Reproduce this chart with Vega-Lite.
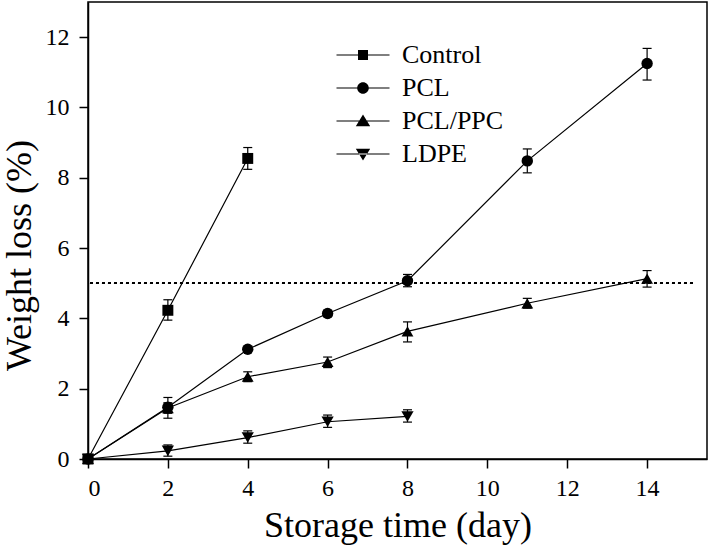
{
  "$schema": "https://vega.github.io/schema/vega-lite/v6.json",
  "width": 619,
  "height": 457,
  "autosize": {"type": "none"},
  "padding": {"left": 88, "top": 2, "right": 2, "bottom": 87},
  "background": "white",
  "config": {
    "font": "Liberation Serif",
    "view": {"stroke": "black", "strokeWidth": 1.5},
    "axis": {
      "grid": false,
      "labelFont": "Liberation Serif",
      "labelFontSize": 24,
      "labelColor": "black",
      "titleFont": "Liberation Serif",
      "titleFontSize": 36,
      "titleFontWeight": "normal",
      "titleColor": "black",
      "domainColor": "black",
      "domainWidth": 1.5,
      "tickColor": "black",
      "tickWidth": 1.5,
      "tickSize": 9
    },
    "legend": {"labelFont": "Liberation Serif"}
  },
  "data": {
    "values": [
      {"series": "Control", "day": 0, "loss": 0, "lo": null, "hi": null},
      {"series": "Control", "day": 2, "loss": 4.23, "lo": 3.95, "hi": 4.53},
      {"series": "Control", "day": 4, "loss": 8.55, "lo": 8.24, "hi": 8.86},
      {"series": "PCL", "day": 0, "loss": 0, "lo": null, "hi": null},
      {"series": "PCL", "day": 2, "loss": 1.47, "lo": 1.16, "hi": 1.75},
      {"series": "PCL", "day": 4, "loss": 3.12, "lo": null, "hi": null},
      {"series": "PCL", "day": 6, "loss": 4.14, "lo": 4.05, "hi": 4.23},
      {"series": "PCL", "day": 8, "loss": 5.07, "lo": 4.9, "hi": 5.25},
      {"series": "PCL", "day": 11, "loss": 8.48, "lo": 8.14, "hi": 8.82},
      {"series": "PCL", "day": 14, "loss": 11.25, "lo": 10.78, "hi": 11.68},
      {"series": "PCL/PPC", "day": 0, "loss": 0, "lo": null, "hi": null},
      {"series": "PCL/PPC", "day": 2, "loss": 1.45, "lo": 1.3, "hi": 1.6},
      {"series": "PCL/PPC", "day": 4, "loss": 2.34, "lo": 2.2, "hi": 2.48},
      {"series": "PCL/PPC", "day": 6, "loss": 2.76, "lo": 2.6, "hi": 2.9},
      {"series": "PCL/PPC", "day": 8, "loss": 3.63, "lo": 3.33, "hi": 3.9},
      {"series": "PCL/PPC", "day": 11, "loss": 4.43, "lo": 4.29, "hi": 4.57},
      {"series": "PCL/PPC", "day": 14, "loss": 5.13, "lo": 4.89, "hi": 5.36},
      {"series": "LDPE", "day": 0, "loss": 0, "lo": null, "hi": null},
      {"series": "LDPE", "day": 2, "loss": 0.23, "lo": 0.08, "hi": 0.4},
      {"series": "LDPE", "day": 4, "loss": 0.61, "lo": 0.45, "hi": 0.8},
      {"series": "LDPE", "day": 6, "loss": 1.06, "lo": 0.9, "hi": 1.25},
      {"series": "LDPE", "day": 8, "loss": 1.21, "lo": 1.05, "hi": 1.4}
    ]
  },
  "layer": [
    {
      "mark": {"type": "rule", "strokeDash": [2.5, 3.5], "strokeWidth": 1.5, "color": "black"},
      "encoding": {
        "x": {"datum": 0.05, "type": "quantitative", "title": "Storage time (day)"},
        "x2": {"datum": 15.2},
        "y": {"datum": 5, "type": "quantitative", "title": "Weight loss (%)"}
      }
    },
    {
      "mark": {"type": "line", "color": "black", "strokeWidth": 1.2},
      "encoding": {
        "x": {
          "field": "day", "type": "quantitative", "title": "Storage time (day)",
          "scale": {"domain": [0, 15.5], "nice": false, "zero": false},
          "axis": {"values": [0, 2, 4, 6, 8, 10, 12, 14], "labelPadding": 8, "labelFont": "Liberation Serif", "titleX": 309.5, "titleY": 77, "titleBaseline": "alphabetic", "titleAlign": "center"}
        },
        "y": {
          "field": "loss", "type": "quantitative", "title": "Weight loss (%)",
          "scale": {"domain": [0, 13], "nice": false},
          "axis": {
            "values": [0, 1, 2, 3, 4, 5, 6, 7, 8, 9, 10, 11, 12],
            "labelExpr": "datum.value % 2 === 0 ? datum.label : ''",
            "labelFont": "Liberation Serif",
            "tickSize": {"condition": {"test": "datum.value % 2 === 1", "value": 5}, "value": 9},
            "labelPadding": 10,
            "titleX": -58, "titleY": 253, "titleAngle": -90, "titleBaseline": "alphabetic", "titleAlign": "center"
          }
        },
        "detail": {"field": "series"}
      }
    },
    {
      "transform": [{"filter": "isValid(datum.hi)"}],
      "mark": {"type": "rule", "color": "black", "strokeWidth": 1.2},
      "encoding": {
        "x": {"field": "day", "type": "quantitative", "title": "Storage time (day)"},
        "y": {"field": "lo", "type": "quantitative", "title": "Weight loss (%)"},
        "y2": {"field": "hi"}
      }
    },
    {
      "transform": [{"filter": "isValid(datum.hi)"}],
      "mark": {"type": "tick", "orient": "horizontal", "size": 9, "thickness": 1.2, "color": "black", "opacity": 1},
      "encoding": {
        "x": {"field": "day", "type": "quantitative", "title": "Storage time (day)"},
        "y": {"field": "hi", "type": "quantitative", "title": "Weight loss (%)"}
      }
    },
    {
      "transform": [{"filter": "isValid(datum.lo)"}],
      "mark": {"type": "tick", "orient": "horizontal", "size": 9, "thickness": 1.2, "color": "black", "opacity": 1},
      "encoding": {
        "x": {"field": "day", "type": "quantitative", "title": "Storage time (day)"},
        "y": {"field": "lo", "type": "quantitative", "title": "Weight loss (%)"}
      }
    },
    {
      "mark": {"type": "point", "filled": true, "color": "black", "opacity": 1},
      "encoding": {
        "x": {"field": "day", "type": "quantitative", "title": "Storage time (day)"},
        "y": {"field": "loss", "type": "quantitative", "title": "Weight loss (%)"},
        "shape": {
          "field": "series", "type": "nominal",
          "scale": {"domain": ["Control", "PCL", "PCL/PPC", "LDPE"], "range": ["square", "circle", "triangle-up", "triangle-down"]},
          "legend": null
        },
        "size": {
          "field": "series", "type": "nominal",
          "scale": {"domain": ["Control", "PCL", "PCL/PPC", "LDPE"], "range": [120, 150, 240, 240]},
          "legend": null
        }
      }
    },
    {
      "transform": [{"filter": "datum.day < 0"}],
      "mark": {"type": "point", "filled": true, "fill": "black", "stroke": "black", "strokeWidth": 1.2, "opacity": 1},
      "encoding": {
        "x": {"field": "day", "type": "quantitative", "title": "Storage time (day)"},
        "y": {"field": "loss", "type": "quantitative", "title": "Weight loss (%)"},
        "shape": {
          "field": "series", "type": "nominal",
          "scale": {
            "domain": ["Control", "PCL", "PCL/PPC", "LDPE"],
            "range": [
              "M-2.65,-0.06H2.65V0.06H-2.65ZM-0.5,-0.5H0.5V0.5H-0.5Z",
              "M-2.65,-0.06H2.65V0.06H-2.65ZM-0.58,0A0.58,0.58,0,1,1,0.58,0A0.58,0.58,0,1,1,-0.58,0Z",
              "M-2.65,-0.06H2.65V0.06H-2.65ZM0,-0.66L0.72,0.53L-0.72,0.53Z",
              "M-2.65,-0.06H2.65V0.06H-2.65ZM0,0.66L0.72,-0.53L-0.72,-0.53Z"
            ]
          },
          "legend": {
            "orient": "none",
            "legendX": 262,
            "legendY": 40,
            "title": null,
            "padding": 0,
            "symbolSize": 400,
            "symbolStrokeWidth": 0,
            "symbolFillColor": "black",
            "labelFont": "Liberation Serif",
            "labelFontSize": 26,
            "labelColor": "black",
            "labelOffset": 26,
            "rowPadding": 7,
            "encode": {
              "symbols": {
                "update": {
                  "fill": {"value": "black"},
                  "opacity": {"value": 1}
                }
              }
            }
          }
        }
      }
    }
  ],
  "resolve": {"scale": {"shape": "independent"}}
}
